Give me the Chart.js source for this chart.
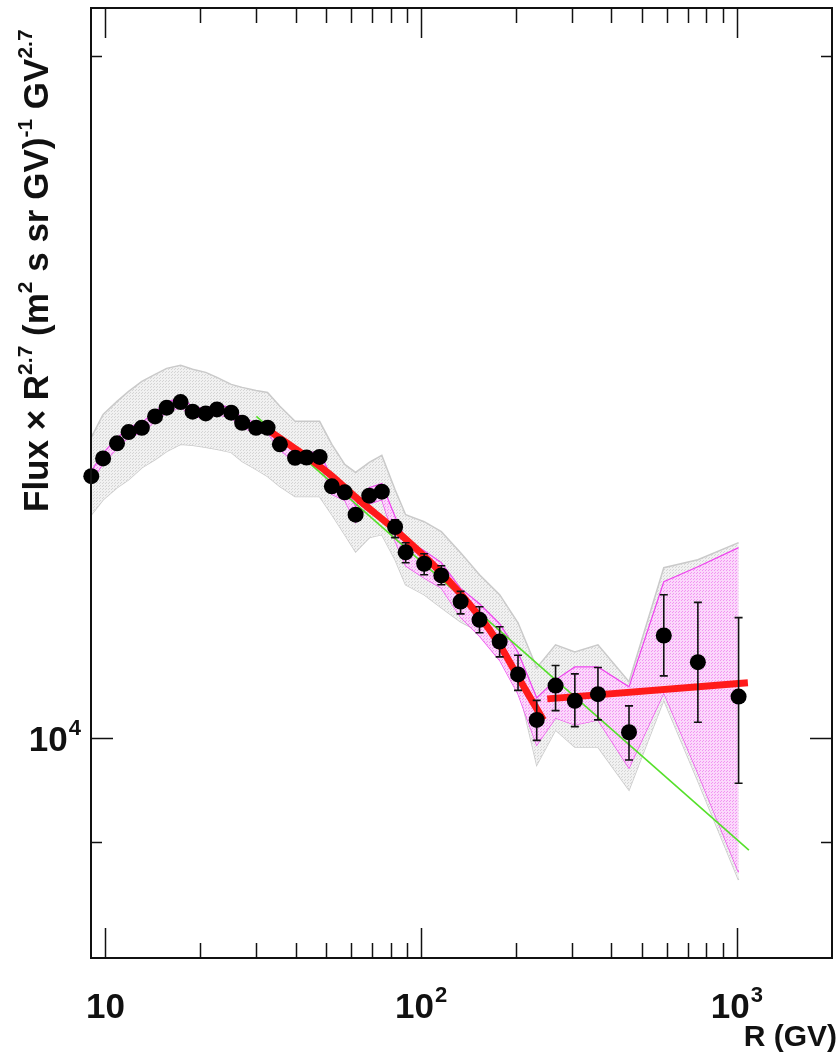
<!DOCTYPE html>
<html>
<head>
<meta charset="utf-8">
<script src="https://cdn.jsdelivr.net/npm/chart.js@4.4.1/dist/chart.umd.min.js"></script>
<style>
  html, body { margin: 0; padding: 0; background: #fff; }
  #wrap { width: 840px; height: 1054px; }
</style>
</head>
<body>
<div id="wrap"><canvas id="c" width="840" height="1054"></canvas></div>
<script>
// rigidity (GV) and flux x R^2.7
const rigidity = [9.02, 9.83, 10.88, 11.84, 13.04, 14.36, 15.63, 17.30, 18.88, 20.78,
  22.55, 25.02, 27.10, 29.99, 32.62, 35.68, 39.87, 43.33, 47.67, 52.12,
  57.27, 61.98, 68.46, 75.04, 82.67, 89.27, 102.2, 115.8, 133.3, 153.0,
  177.2, 202.6, 232.2, 266.4, 306.6, 362.9, 455.1, 586.5, 752.0, 1012];
const flux = [13052, 13289, 13494, 13650, 13710, 13869, 13992, 14072, 13935, 13911,
  13968, 13921, 13780, 13710, 13710, 13481, 13298, 13302, 13309, 12918,
  12839, 12551, 12796, 12848, 12395, 12080, 11941, 11800, 11491, 11279,
  11033, 10671, 10189, 10551, 10388, 10459, 10062, 11101, 10805, 10433];

// statistical error bars (null = hidden under the marker)
const statHi = [null, null, null, null, null, null, null, null, null, null,
  null, null, null, null, null, null, null, null, null, null,
  null, null, null, null, 12486, 12199, 12063, 11917, 11610, 11430,
  11200, 10880, 10393, 10768, 10677, 10746, 10335, 11571, 11481, 11305];
const statLo = [null, null, null, null, null, null, null, null, null, null,
  null, null, null, null, null, null, null, null, null, null,
  null, null, null, null, 12262, 11953, 11808, 11689, 11348, 11133,
  10863, 10499, 9979, 10286, 10120, 10189, 9783, 10655, 10165, 9554];

// total uncertainty band (grey)
const totalHi = [13576, 13897, 14082, 14226, 14371, 14474, 14562, 14607, 14548, 14503,
  14430, 14327, 14284, 14240, 14211, 14011, 13799, 13799, 13799, 13481,
  13208, 13101, 13235, 13330, 12874, 12551, 12462, 12336, 12076, 11808,
  11571, 11246, 10742, 10996, 10918, 10996, 10591, 11893, 11990, 12199];
const totalLo = [12551, 12743, 12900, 13005, 13165, 13273, 13384, 13481, 13467, 13440,
  13412, 13371, 13249, 13141, 13048, 12916, 12785, 12785, 12785, 12551,
  12299, 12088, 12262, 12299, 11990, 11688, 11571, 11419, 11257, 11144,
  10907, 10558, 9733, 10086, 9913, 9913, 9489, 10398, 9576, 8659];

// systematic band (magenta)
const sysHi = [13120, 13360, 13565, 13720, 13780, 13940, 14065, 14145, 14005, 13980,
  14040, 13990, 13850, 13780, 13780, 13550, 13365, 13370, 13375, 13025,
  12945, 12655, 12900, 12955, 12525, 12240, 12100, 11955, 11645, 11465,
  11235, 10915, 10420, 10612, 10753, 10753, 10537, 11724, 11905, 12138];
const sysLo = [12985, 13220, 13425, 13580, 13640, 13800, 13920, 14000, 13865, 13840,
  13895, 13850, 13710, 13640, 13640, 13410, 13230, 13235, 13240, 12815,
  12735, 12450, 12690, 12745, 12220, 11915, 11770, 11650, 11310, 11095,
  10825, 10460, 9933, 10210, 10137, 10189, 9703, 10473, 9654, 8728];

// fits
const fit1R = [32.55, 41.04, 51.00, 63.38, 84.67, 115.6, 153.3, 177.2, 201.8, 243.7];
const fit1V = [13686, 13384, 13088, 12743, 12324, 11832, 11315, 10996, 10655, 10189];
const fit2R = [250.8, 1083];
const fit2V = [10409, 10580];
const plR = [30.06, 1091];
const plV = [13869, 8927];

// axes
const xMajor = [10, 100, 1000];
const xMajorSup = ['', '2', '3'];
const xMinor = [20, 30, 40, 50, 60, 70, 80, 90, 200, 300, 400, 500, 600, 700, 800, 900];
const yMajor = [10000];
const yMajorSup = ['4'];
const yMinor = [9000, 20000];

const FONT = '"Liberation Sans", Arial, Helvetica, sans-serif';

function pts(xs, ys) {
  return xs.map((x, i) => ({ x: x, y: ys[i] }));
}

function dotPattern(bg, dot) {
  const p = document.createElement('canvas');
  p.width = 3; p.height = 3;
  const c = p.getContext('2d');
  c.fillStyle = bg;
  c.fillRect(0, 0, 3, 3);
  c.fillStyle = dot;
  c.fillRect(0, 0, 1, 1);
  c.fillRect(1, 2, 1, 1);
  return c.createPattern(p, 'repeat');
}

const ctx = document.getElementById('c').getContext('2d');
const greyFill = dotPattern('#f1f1f1', '#d4d4d4');
const magFill = dotPattern('#fbd8fb', '#f294f2');

function drawPow(c, base, sup, x, y, size, align) {
  c.font = 'bold ' + size + 'px ' + FONT;
  const wb = c.measureText(base).width;
  const supSize = Math.round(size * 0.62);
  c.font = 'bold ' + supSize + 'px ' + FONT;
  const ws = sup ? c.measureText(sup).width + 1 : 0;
  const total = wb + ws;
  let x0 = x;
  if (align === 'center') x0 = x - total / 2;
  if (align === 'right') x0 = x - total;
  c.textAlign = 'left';
  c.textBaseline = 'alphabetic';
  c.font = 'bold ' + size + 'px ' + FONT;
  c.fillText(base, x0, y);
  if (sup) {
    c.font = 'bold ' + supSize + 'px ' + FONT;
    c.fillText(sup, x0 + wb + 1, y - size * 0.46);
  }
}

function drawRich(c, parts, x, y, size) {
  let cx = x;
  const supSize = Math.round(size * 0.6);
  parts.forEach(p => {
    c.font = 'bold ' + (p.sup ? supSize : size) + 'px ' + FONT;
    c.fillText(p.t, cx, p.sup ? y - size * 0.45 : y);
    cx += c.measureText(p.t).width;
  });
}

const errorBars = {
  id: 'errorBars',
  beforeDatasetDraw(chart, args) {
    if (args.index !== 0) return;
    const xs = chart.scales.x, ys = chart.scales.y;
    const c = chart.ctx;
    c.save();
    c.strokeStyle = '#111';
    c.lineWidth = 1.6;
    rigidity.forEach((r, i) => {
      if (statHi[i] == null) return;
      const px = xs.getPixelForValue(r);
      const yh = ys.getPixelForValue(statHi[i]);
      const yl = ys.getPixelForValue(statLo[i]);
      c.beginPath();
      c.moveTo(px, yh); c.lineTo(px, yl);
      c.moveTo(px - 4, yh); c.lineTo(px + 4, yh);
      c.moveTo(px - 4, yl); c.lineTo(px + 4, yl);
      c.stroke();
    });
    c.restore();
  }
};

const frameAxes = {
  id: 'frameAxes',
  afterDraw(chart) {
    const { left, right, top, bottom } = chart.chartArea;
    const xs = chart.scales.x, ys = chart.scales.y;
    const c = chart.ctx;
    c.save();
    c.strokeStyle = '#111';
    c.lineWidth = 2;
    c.strokeRect(left, top, right - left, bottom - top);
    c.lineWidth = 1.5;
    c.beginPath();
    xMajor.concat(xMinor).forEach(v => {
      const len = xMajor.includes(v) ? 30 : 15;
      const px = Math.round(xs.getPixelForValue(v)) + 0.5;
      c.moveTo(px, bottom); c.lineTo(px, bottom - len);
      c.moveTo(px, top); c.lineTo(px, top + len);
    });
    yMajor.concat(yMinor).forEach(v => {
      const len = yMajor.includes(v) ? 22 : 11;
      const py = Math.round(ys.getPixelForValue(v)) + 0.5;
      c.moveTo(left, py); c.lineTo(left + len, py);
      c.moveTo(right, py); c.lineTo(right - len, py);
    });
    c.stroke();

    c.fillStyle = '#111';
    xMajor.forEach((v, i) => {
      drawPow(c, '10', xMajorSup[i], xs.getPixelForValue(v), 1018, 35, 'center');
    });
    yMajor.forEach((v, i) => {
      drawPow(c, '10', yMajorSup[i], 81, ys.getPixelForValue(v) + 13, 35, 'right');
    });

    // x title
    c.font = 'bold 30px ' + FONT;
    c.textAlign = 'right';
    c.fillText('R (GV)', 837, 1046);

    // y title
    c.textAlign = 'left';
    c.translate(48, 512);
    c.rotate(-Math.PI / 2);
    drawRich(c, [
      { t: 'Flux \u00d7 R' }, { t: '2.7', sup: true },
      { t: ' (m' }, { t: '2', sup: true },
      { t: ' s sr GV)' }, { t: '-1', sup: true },
      { t: ' GV' }, { t: '2.7', sup: true }
    ], 0, 0, 35);
    c.restore();
  }
};

new Chart(ctx, {
  type: 'line',
  data: {
    datasets: [
      {
        label: 'data',
        data: pts(rigidity, flux),
        showLine: false,
        pointRadius: 8,
        pointHoverRadius: 8,
        pointBackgroundColor: '#000',
        pointBorderWidth: 0,
        clip: false,
        order: 1
      },
      {
        label: 'fit low',
        data: pts(fit1R, fit1V),
        borderColor: '#ff1a1a',
        borderWidth: 7,
        pointRadius: 0,
        tension: 0.3,
        fill: false,
        order: 3
      },
      {
        label: 'fit high',
        data: pts(fit2R, fit2V),
        borderColor: '#ff1a1a',
        borderWidth: 7,
        pointRadius: 0,
        fill: false,
        order: 3
      },
      {
        label: 'power law',
        data: pts(plR, plV),
        borderColor: '#55e02a',
        borderWidth: 1.6,
        pointRadius: 0,
        fill: false,
        order: 5
      },
      {
        label: 'sys hi',
        data: pts(rigidity, sysHi),
        borderColor: '#ee44ee',
        borderWidth: 1.2,
        backgroundColor: magFill,
        pointRadius: 0,
        fill: '+1',
        order: 7
      },
      {
        label: 'sys lo',
        data: pts(rigidity, sysLo),
        borderColor: '#ee44ee',
        borderWidth: 1.2,
        pointRadius: 0,
        fill: false,
        order: 7
      },
      {
        label: 'total hi',
        data: pts(rigidity, totalHi),
        borderColor: '#cacaca',
        borderWidth: 1.5,
        backgroundColor: greyFill,
        pointRadius: 0,
        fill: '+1',
        order: 9
      },
      {
        label: 'total lo',
        data: pts(rigidity, totalLo),
        borderColor: '#cacaca',
        borderWidth: 1.5,
        pointRadius: 0,
        fill: false,
        order: 9
      }
    ]
  },
  options: {
    responsive: false,
    animation: false,
    devicePixelRatio: 1,
    layout: { padding: { left: 91, top: 8, right: 4, bottom: 96 } },
    plugins: {
      legend: { display: false },
      tooltip: { enabled: false }
    },
    scales: {
      x: { type: 'logarithmic', min: 9, max: 2000, display: false },
      y: { type: 'logarithmic', min: 8000, max: 21000, display: false }
    }
  },
  plugins: [errorBars, frameAxes]
});
</script>
</body>
</html>
